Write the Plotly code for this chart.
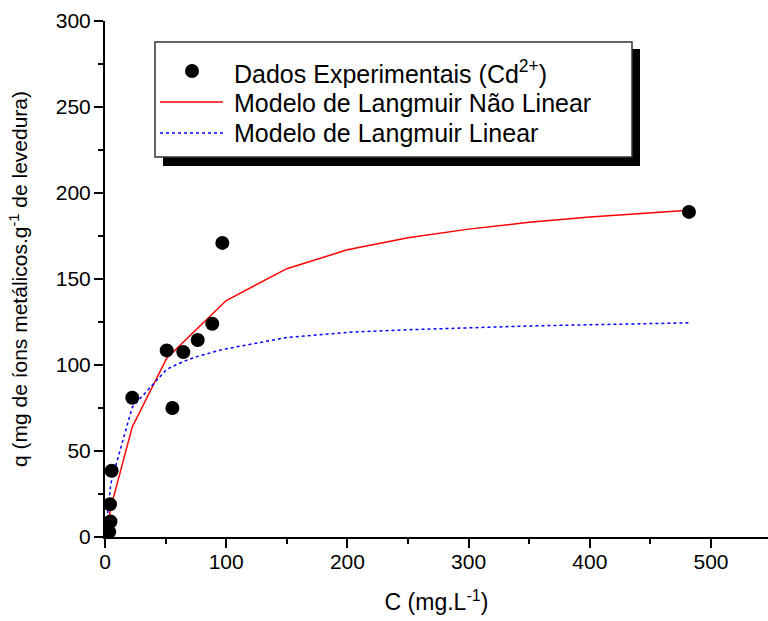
import plotly.graph_objects as go

# ---- data ----
c_exp = [3.5, 4.5, 4.1, 5.5, 22.5, 50.9, 55.6, 64.6, 76.5, 88.5, 96.8, 481.8]
q_exp = [3.0, 9.0, 19.0, 38.5, 81.0, 108.5, 75.0, 107.5, 114.5, 124.0, 171.0, 189.0]

c_nl = [0, 3.5, 4.1, 4.5, 5.5, 22.5, 50.9, 100, 150, 200, 250, 300, 350, 400, 450, 481.8]
q_nl = [0, 12.5, 14.5, 16.0, 19.0, 64.0, 104.0, 137.5, 156.0, 167.0, 174.0, 179.0, 183.0, 186.0, 188.5, 190.0]

c_lin = [0, 3.5, 4.1, 4.5, 5.5, 22.5, 50.9, 55.6, 64.6, 76.5, 88.5, 96.8, 150, 200, 250, 300, 350, 400, 450, 481.8]
q_lin = [0, 24.0, 27.0, 29.0, 33.0, 75.5, 97.5, 99.0, 102.0, 105.0, 107.5, 109.0, 116.0, 119.0, 120.5, 121.8, 122.7, 123.4, 124.0, 124.5]

legend_labels = ["Dados Experimentais (Cd<sup>2+</sup>)",
                 "Modelo de Langmuir Não Linear",
                 "Modelo de Langmuir Linear"]
x_title = "C (mg.L<sup>-1</sup>)"
y_title = "q (mg de íons metálicos.g<sup>-1</sup> de levedura)"

# ---- layout geometry ----
W, H = 768, 621
L, R, T, B = 105, 0, 21, 84
PW, PH = W - L - R, H - T - B
FONT = "Arial, 'Liberation Sans', sans-serif"


def px(x):
    return (x - L) / PW


def py(y):
    return (H - B - y) / PH


fig = go.Figure()
fig.add_trace(go.Scatter(x=c_nl, y=q_nl, mode="lines", name=legend_labels[1],
                         line=dict(color="#ff0000", width=1.5), showlegend=False))
fig.add_trace(go.Scatter(x=c_lin, y=q_lin, mode="lines", name=legend_labels[2],
                         line=dict(color="#0000ff", width=1.5, dash="dot"), showlegend=False))
fig.add_trace(go.Scatter(x=c_exp, y=q_exp, mode="markers", name=legend_labels[0],
                         marker=dict(color="black", size=14), showlegend=False))

axis_common = dict(showline=True, linecolor="black", linewidth=2, ticks="outside",
                   ticklen=9, tickwidth=2, tickcolor="black", showgrid=False,
                   zeroline=False, mirror=False,
                   tickfont=dict(family=FONT, size=21, color="black"),
                   minor=dict(ticks="outside", ticklen=5, tickwidth=2, tickcolor="black"))

fig.update_xaxes(range=[0, 547], dtick=100, tick0=0, minor_dtick=50, ticklabelstandoff=-4,
                 title=dict(text=x_title, font=dict(family=FONT, size=23, color="black"), standoff=22),
                 **axis_common)
fig.update_yaxes(range=[0, 300], dtick=50, tick0=0, minor_dtick=25, ticklabelstandoff=-1,
                 title=dict(text=y_title, font=dict(family=FONT, size=21, color="black"), standoff=22),
                 **axis_common)

# legend box with shadow
shapes = [
    dict(type="rect", xref="paper", yref="paper", x0=px(163), x1=px(640), y0=py(166), y1=py(49),
         fillcolor="black", line=dict(width=0), layer="above"),
    dict(type="rect", xref="paper", yref="paper", x0=px(155), x1=px(632), y0=py(157), y1=py(42),
         fillcolor="white", line=dict(color="#333333", width=1.5), layer="above"),
    dict(type="circle", xref="paper", yref="paper", x0=px(185), x1=px(199), y0=py(78), y1=py(64),
         fillcolor="black", line=dict(width=0), layer="above"),
    dict(type="line", xref="paper", yref="paper", x0=px(160), x1=px(223), y0=py(102), y1=py(102),
         line=dict(color="#ff0000", width=1.5), layer="above"),
    dict(type="line", xref="paper", yref="paper", x0=px(160), x1=px(223), y0=py(133), y1=py(133),
         line=dict(color="#0000ff", width=1.5, dash="dot"), layer="above"),
]
ann = []
for lab, yy in zip(legend_labels, [72, 103, 133]):
    ann.append(dict(text=lab, xref="paper", yref="paper", x=px(232), y=py(yy),
                    xanchor="left", yanchor="middle", showarrow=False,
                    font=dict(family=FONT, size=25, color="black")))

fig.update_layout(width=W, height=H, margin=dict(l=L, r=R, t=T, b=B, autoexpand=False),
                  plot_bgcolor="white", paper_bgcolor="white", showlegend=False,
                  shapes=shapes, annotations=ann)

fig.write_html("out.html")
